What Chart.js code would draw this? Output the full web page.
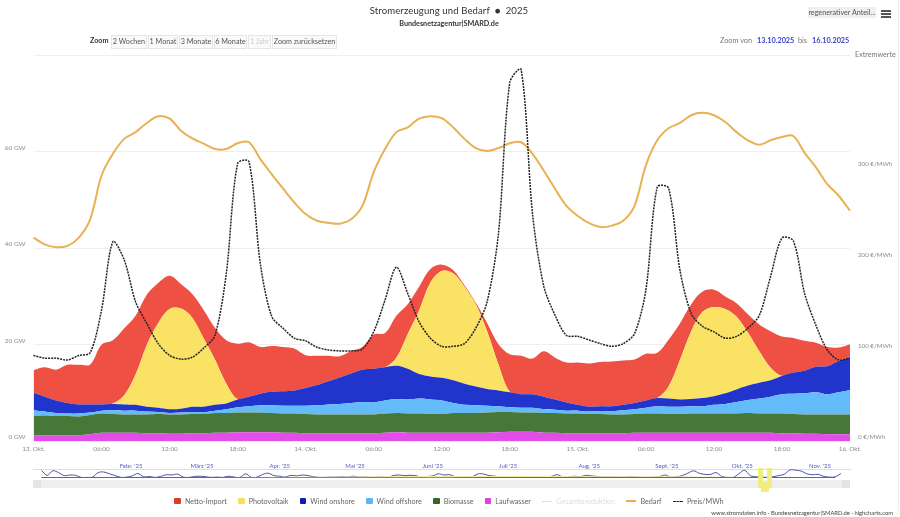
<!DOCTYPE html>
<html>
<head>
<meta charset="utf-8">
<title>Stromerzeugung und Bedarf</title>
<script src="https://cdn.jsdelivr.net/npm/chart.js"></script>
<style>
  html, body { margin: 0; padding: 0; background: #fff; }
  body { width: 900px; height: 517px; position: relative; overflow: hidden; font-family: Lato, sans-serif; color: #555; }
  canvas { position: absolute; left: 0; }
  .abs { position: absolute; white-space: nowrap; }
  #card { left: -10px; top: -10px; width: 907px; height: 525.5px; border: 1px solid #eee; border-radius: 8px; }
  #title { left: 0; width: 898px; top: 5px; text-align: center; font-size: 9.55px; color: #333; letter-spacing: .1px; }
  #subtitle { left: 0; width: 898px; top: 19px; text-align: center; font-size: 7.2px; color: #333; font-weight: 700; }
  #zoomLabel { left: 90px; top: 36px; font-size: 7.2px; font-weight: 700; color: #333; }
  .btn { top: 35px; height: 12px; line-height: 12px; font-size: 7.2px; text-align: center; border: 1px solid #e6e6e6; background: #fafafa; color: #555; box-sizing: content-box; }
  .rangeText { top: 36px; font-size: 7.3px; color: #777; }
  .date { color: #3a44c8; font-weight: 700; }
  #renew { left: 808px; top: 7px; width: 68px; height: 11px; line-height: 11px; font-size: 7.2px; background: #f0f0f0; text-align: center; color: #555; }
  .burger { left: 881px; width: 10px; height: 1.5px; background: #555; }
  #extrem { left: 855px; top: 50px; font-size: 7.2px; color: #777; }
  #scroll { left: 33px; top: 480px; width: 817px; height: 8px; background: #efefef; }
  .arrow { top: 480px; width: 8px; height: 8px; background: #e4e4e4; }
  .handle { top: 468px; height: 20px; width: 5px; background: #f0ee80; }
  #thumb { left: 761px; top: 482px; width: 8px; height: 10px; background: #f0ee80; }
  #legend { left: 0; width: 898px; top: 495px; display: flex; justify-content: center; gap: 11.3px; font-size: 7.2px; color: #666; }
  #legend span.item { display: inline-flex; align-items: center; gap: 4px; height: 12px; }
  #legend i.sw { display: inline-block; width: 6.5px; height: 6.5px; border-radius: 1px; }
  #legend i.ln { display: inline-block; width: 10px; height: 0; }
  #footer { right: 7px; top: 509px; font-size: 5.8px; color: #444; }
</style>
</head>
<body>
<div class="abs" id="card"></div>
<canvas id="mainChart" width="900" height="517" style="top:0"></canvas>
<canvas id="navChart" width="900" height="25" style="top:455px"></canvas>

<div class="abs" id="title">Stromerzeugung und Bedarf &nbsp;●&nbsp; 2025</div>
<div class="abs" id="subtitle">Bundesnetzagentur|SMARD.de</div>
<div class="abs" id="zoomLabel">Zoom</div>
<div class="abs btn" style="left:111px;width:34px">2 Wochen</div>
<div class="abs btn" style="left:148px;width:28px">1 Monat</div>
<div class="abs btn" style="left:179px;width:32px">3 Monate</div>
<div class="abs btn" style="left:214px;width:31px">6 Monate</div>
<div class="abs btn" style="left:248px;width:21px;color:#ccc">1 Jahr</div>
<div class="abs btn" style="left:272px;width:63px">Zoom zurücksetzen</div>
<div class="abs rangeText" style="left:720px">Zoom von</div>
<div class="abs rangeText date" style="left:757px">13.10.2025</div>
<div class="abs rangeText" style="left:798px">bis</div>
<div class="abs rangeText date" style="left:812px">16.10.2025</div>
<div class="abs" id="renew">regenerativer Anteil...</div>
<div class="abs burger" style="top:10px"></div>
<div class="abs burger" style="top:13px"></div>
<div class="abs burger" style="top:16px"></div>
<div class="abs" id="extrem">Extremwerte</div>

<div class="abs" id="scroll"></div>
<div class="abs arrow" style="left:33px"></div>
<div class="abs arrow" style="left:842px"></div>
<div class="abs handle" style="left:758px"></div>
<div class="abs handle" style="left:767px"></div>
<div class="abs" id="thumb"></div>

<div class="abs" id="legend"></div>
<div class="abs" id="footer">www.stromdaten.info · Bundesnetzagentur|SMARD.de · highcharts.com</div>

<script>
// hours from 13.10.2025 00:00, one value per hour
const hours = [];
for (let h = 0; h <= 72; h++) hours.push(h);
const timeTicks = ['13. Okt.', '06:00', '12:00', '18:00', '14. Okt.', '06:00', '12:00', '18:00', '15. Okt.', '06:00', '12:00', '18:00', '16. Okt.'];

// GW
const laufwasser = [1.2, 1.2, 1.2, 1.2, 1.2, 1.4, 1.7, 1.7, 1.7, 1.7, 1.6, 1.6, 1.5, 1.5, 1.6, 1.6, 1.7, 1.7, 1.8, 1.8, 1.8, 1.8, 1.7, 1.7, 1.6, 1.6, 1.6, 1.6, 1.6, 1.6, 1.6, 1.7, 1.8, 1.7, 1.7, 1.7, 1.7,
  1.7, 1.7, 1.7, 1.7, 1.8, 1.9, 1.9, 1.9, 1.7, 1.7, 1.6, 1.6, 1.6, 1.6, 1.6, 1.6, 1.7, 1.7, 1.7, 1.7, 1.7, 1.7, 1.7, 1.7, 1.7, 1.7, 1.7, 1.7, 1.7, 1.6, 1.6, 1.5, 1.5, 1.4, 1.4, 1.4];
const biomasse = [4.0, 4.1, 4.0, 4.0, 3.9, 4.0, 4.0, 3.9, 3.8, 3.8, 3.9, 4.0, 4.0, 4.0, 4.0, 4.0, 4.1, 4.1, 4.1, 4.1, 4.1, 4.0, 4.0, 4.0, 4.0, 3.9, 3.9, 3.9, 3.9, 3.9, 3.9, 4.0, 4.0, 4.0, 4.0, 3.9, 3.9,
  4.1, 4.1, 4.1, 4.2, 4.2, 4.1, 4.0, 4.0, 4.1, 4.1, 4.1, 4.1, 4.0, 4.0, 3.9, 3.9, 3.9, 4.0, 4.0, 3.9, 3.9, 4.0, 4.0, 4.0, 4.0, 4.0, 4.1, 4.0, 4.0, 4.1, 4.0, 4.0, 4.0, 4.1, 4.1, 4.1];
const windOffshore = [1.2, 0.8, 0.6, 0.5, 0.6, 0.5, 0.6, 0.8, 0.8, 0.8, 0.6, 0.4, 0.3, 0.4, 0.4, 0.4, 0.5, 0.8, 1.1, 1.3, 1.5, 1.6, 1.6, 1.6, 1.7, 1.9, 2.1, 2.2, 2.4, 2.6, 2.5, 2.7, 2.9, 2.9, 3.1, 3.0, 2.8,
  2.1, 1.7, 1.6, 1.4, 1.2, 1.0, 1.0, 1.0, 0.8, 0.7, 0.6, 0.6, 0.5, 0.6, 0.7, 0.9, 1.0, 1.2, 1.5, 1.5, 1.5, 1.5, 1.5, 1.8, 2.0, 2.4, 2.7, 3.1, 3.5, 4.0, 4.2, 4.4, 4.6, 4.2, 4.6, 5.1];
const windOnshore = [3.6, 3.1, 2.6, 2.2, 1.9, 1.7, 1.3, 1.3, 1.3, 1.2, 1.0, 0.9, 0.8, 0.8, 1.1, 1.1, 1.2, 1.2, 1.6, 2.0, 2.4, 2.8, 3.0, 3.2, 3.7, 4.2, 4.8, 5.5, 6.1, 6.7, 7.0, 6.9, 6.9, 6.4, 5.1, 4.8, 4.7,
  4.7, 4.4, 3.9, 3.5, 3.3, 3.1, 2.8, 2.8, 2.6, 2.1, 1.7, 1.2, 1.0, 1.0, 1.0, 1.1, 1.3, 1.5, 1.7, 1.7, 1.5, 1.5, 1.7, 1.8, 2.2, 2.6, 3.0, 3.3, 3.4, 3.8, 4.4, 4.7, 5.3, 5.8, 6.5, 6.8];
const photovoltaik = [0, 0, 0, 0, 0, 0, 0, 0.1, 1.9, 6.3, 12.9, 17.6, 20.8, 20.8, 18.5, 14.2, 9.4, 4.1, 0.1, 0, 0, 0, 0, 0, 0, 0, 0, 0, 0, 0, 0, 0, 1.7, 7.2, 13.2, 19.5, 22.2,
  22.2, 20.1, 17.1, 12.0, 5.4, 0.1, 0, 0, 0, 0, 0, 0, 0, 0, 0, 0, 0, 0, 0, 2.5, 8.2, 14.1, 17.9, 18.5, 17.5, 15.1, 11.0, 6.5, 2.6, 0, 0, 0, 0, 0, 0, 0];
const nettoImport = [4.7, 6.1, 6.4, 7.9, 8.2, 8.3, 12.4, 13.1, 13.9, 12.2, 10.4, 8.3, 6.9, 5.1, 4.9, 5.9, 6.6, 9.0, 11.5, 11.3, 9.7, 9.5, 9.2, 8.7, 6.8, 6.1, 5.3, 4.4, 4.7, 4.7, 7.1, 7.1, 8.7, 6.2, 4.9, 2.8, 1.3,
  0.7, 0.3, 0.3, 1.7, 4.2, 7.8, 8.0, 7.4, 9.4, 8.7, 8.3, 8.8, 9.0, 9.2, 9.3, 9.2, 9.0, 9.7, 9.4, 9.7, 7.6, 5.6, 4.2, 3.6, 2.6, 2.8, 3.8, 5.6, 7.6, 8.2, 7.2, 6.2, 5.0, 4.0, 2.8, 2.7];
const bedarf = [42.2, 40.8, 40.2, 40.5, 42.2, 46.0, 55.1, 59.6, 62.7, 64.1, 66.0, 67.4, 66.9, 64.4, 62.8, 61.7, 60.6, 60.6, 61.8, 62.0, 58.5, 55.4, 52.4, 49.5, 47.1, 45.7, 45.3, 45.1, 46.0, 48.8, 55.8, 60.6, 64.1, 65.1, 66.9, 67.4, 67.0,
  65.1, 62.7, 60.8, 60.2, 60.8, 61.8, 62.0, 59.6, 56.1, 52.3, 48.8, 46.7, 45.2, 44.4, 44.7, 45.7, 48.8, 57.2, 62.4, 64.9, 66.0, 67.6, 68.1, 67.6, 66.2, 64.1, 62.4, 61.5, 62.4, 63.1, 63.3, 59.8, 56.8, 53.3, 50.9, 47.8];
// EUR/MWh
const preis = [94, 91, 91, 89, 94, 97, 144, 219, 199, 153, 129, 107, 94, 90, 92, 102, 116, 184, 305, 307, 195, 137, 124, 113, 110, 103, 100, 99, 99, 101, 120, 155, 191, 162, 131, 113, 104,
  104, 107, 124, 153, 228, 394, 408, 250, 170, 138, 116, 115, 111, 107, 104, 107, 118, 166, 279, 278, 188, 140, 126, 120, 113, 115, 124, 138, 181, 223, 220, 162, 127, 100, 89, 91];

// navigator (whole year, roughly two samples a week)
const navWind = [50, 18, 48, 36, 16, 20, 18, 4, 4, 6, 36, 40, 28, 16, 4, 6, 14, 30, 8, 10, 4, 10, 22, 20, 26, 6, 4, 10, 12, 8, 4, 6, 4, 12, 6, 4, 28, 4, 6, 24, 32, 16, 12, 6, 18, 14, 20, 16, 8, 4, 4, 6, 6, 8, 6, 12, 6, 8, 4, 6, 8, 4, 16, 20, 16, 18, 16, 6, 10, 14, 28, 20, 22,
  8, 6, 4, 8, 28, 26, 16, 12, 6, 6, 10, 10, 6, 6, 4, 6, 6, 12, 22, 6, 8, 12, 8, 18, 14, 10, 6, 8, 6, 6, 6, 10, 6, 4, 4, 6, 10, 20, 6, 8, 16, 32, 48, 32, 24, 24, 36, 10, 4, 4, 28, 52, 16, 8, 6, 4, 8, 16, 24, 54, 52, 46, 28, 22, 24, 10, 6, 8, 30];
const navPv = [0, 0, 1, 2, 3, 5, 8, 9, 10, 9, 8, 7, 5, 2, 1];
const navImport = [2, 2, 2, 2, 1, 1, 1, 1, 2, 2, 2, 2, 2, 2, 2];
const navMonths = ["Febr. '25", "März '25", "Apr. '25", "Mai '25", "Juni '25", "Juli '25", "Aug. '25", "Sept. '25", "Okt. '25", "Nov. '25"];
const navMonthIndex = [15.8, 28.3, 42, 55.3, 69, 82.3, 96.6, 110.3, 123.6, 137.3];

const legendItems = [
  { label: 'Netto-Import', color: '#dd3a2e', type: 'box' },
  { label: 'Photovoltaik', color: '#f3df5c', type: 'box' },
  { label: 'Wind onshore', color: '#0d1fb0', type: 'box' },
  { label: 'Wind offshore', color: '#5cb6f2', type: 'box' },
  { label: 'Biomasse', color: '#356628', type: 'box' },
  { label: 'Laufwasser', color: '#df3fe3', type: 'box' },
  { label: 'Gesamtproduktion', color: '#ddd', type: 'dash', off: true },
  { label: 'Bedarf', color: '#e9ae4a', type: 'line' },
  { label: 'Preis/MWh', color: '#222', type: 'dot' },
];

const axisColor = '#8a8a8a';

function area(label, data, color, fill) {
  return { label, data, backgroundColor: color, borderColor: color, borderWidth: 0, fill, pointRadius: 0, stack: 'gen', tension: 0.35 };
}

new Chart(document.getElementById('mainChart'), {
  type: 'line',
  data: {
    labels: hours,
    datasets: [
      area('Laufwasser', laufwasser, '#e24ee8', 'origin'),
      area('Biomasse', biomasse, '#47783a', '-1'),
      area('Wind offshore', windOffshore, '#64bbf9', '-1'),
      area('Wind onshore', windOnshore, '#2134cb', '-1'),
      area('Photovoltaik', photovoltaik, '#fae264', '-1'),
      area('Netto-Import', nettoImport, '#ee5044', '-1'),
      { label: 'Bedarf', data: bedarf, borderColor: '#e8b154', borderWidth: 2, pointRadius: 0, fill: false, stack: 'demand', order: -1, tension: 0.35 },
      { label: 'Preis/MWh', data: preis, yAxisID: 'y2', borderColor: '#222', borderWidth: 1.5, borderDash: [2, 1], pointRadius: 0, fill: false, order: -2, tension: 0.3 },
    ],
  },
  options: {
    responsive: false,
    animation: false,
    layout: { padding: { left: 0, right: 0, top: 55.5, bottom: 58 } },
    plugins: { legend: { display: false }, tooltip: { enabled: false } },
    scales: {
      x: {
        grid: { display: false, drawTicks: false },
        border: { display: false },
        afterFit: (scale) => { scale.height = 18; },
        ticks: {
          autoSkip: false, maxRotation: 0, color: axisColor, padding: 4,
          font: { family: 'Lato, sans-serif', size: 6.4 },
          callback: (val, i) => (i % 6 === 0 ? timeTicks[i / 6] : ''),
        },
      },
      y: {
        stacked: true,
        min: 0, max: 80,
        afterFit: (scale) => { scale.width = 33.5; },
        grid: { color: '#efefef', drawTicks: false },
        border: { display: false },
        ticks: {
          stepSize: 20, autoSkip: false, color: axisColor, padding: 8,
          font: { family: 'Lato, sans-serif', size: 6.5, lineHeight: '8px' },
          // second empty line lifts the label above its grid line
          callback: (val) => (val === 80 ? '' : [val + ' GW', '']),
        },
      },
      y2: {
        position: 'right',
        min: 0, max: 423.6,
        afterFit: (scale) => { scale.width = 50; },
        grid: { display: false, drawTicks: false },
        border: { display: false },
        ticks: {
          stepSize: 100, autoSkip: false, includeBounds: false, color: axisColor, padding: 8,
          font: { family: 'Lato, sans-serif', size: 6.2, lineHeight: '8px' },
          callback: (val) => (val === 400 ? '' : [val + ' €/MWh', '']),
        },
      },
    },
  },
});

new Chart(document.getElementById('navChart'), {
  type: 'line',
  data: {
    datasets: [
      { data: navImport.map((v, i) => ({ x: i * 10, y: v })), borderColor: '#a8409a', borderWidth: 1.2, pointRadius: 0 },
      { data: navPv.map((v, i) => ({ x: i * 10, y: v })), borderColor: '#f6e9a0', borderWidth: 1.2, pointRadius: 0, tension: 0.3 },
      { data: navWind.map((v, i) => ({ x: i, y: v })), borderColor: '#4a52a8', borderWidth: 1, pointRadius: 0, tension: 0.35 },
    ],
  },
  options: {
    responsive: false,
    animation: false,
    layout: { padding: { left: 33, right: 50, top: 0, bottom: 2 } },
    plugins: { legend: { display: false }, tooltip: { enabled: false } },
    scales: {
      x: {
        type: 'linear',
        position: 'top',
        min: -1.5, max: 142.6,
        afterFit: (scale) => { scale.height = 14; },
        afterBuildTicks: (scale) => { scale.ticks = navMonthIndex.map((v) => ({ value: v })); },
        grid: { display: false, drawTicks: false },
        border: { display: true, color: '#dcdcf0' },
        ticks: {
          autoSkip: false, maxRotation: 0, padding: -1, color: '#5560c0',
          font: { family: 'Lato, sans-serif', size: 6 },
          callback: (val, i) => navMonths[i],
        },
      },
      y: { display: false, min: 0, max: 60 },
    },
  },
});

// legend as plain html, items don't toggle anything here
const legendEl = document.getElementById('legend');
legendItems.forEach((item) => {
  const el = document.createElement('span');
  el.className = 'item';
  if (item.off) el.style.color = '#ddd';
  const mark = document.createElement('i');
  if (item.type === 'box') {
    mark.className = 'sw';
    mark.style.background = item.color;
  } else {
    mark.className = 'ln';
    const style = item.type === 'line' ? 'solid' : 'dashed';
    mark.style.borderTop = (item.type === 'line' ? '2px ' : '1.5px ') + style + ' ' + item.color;
  }
  el.appendChild(mark);
  el.appendChild(document.createTextNode(item.label));
  legendEl.appendChild(el);
});
</script>
</body>
</html>
